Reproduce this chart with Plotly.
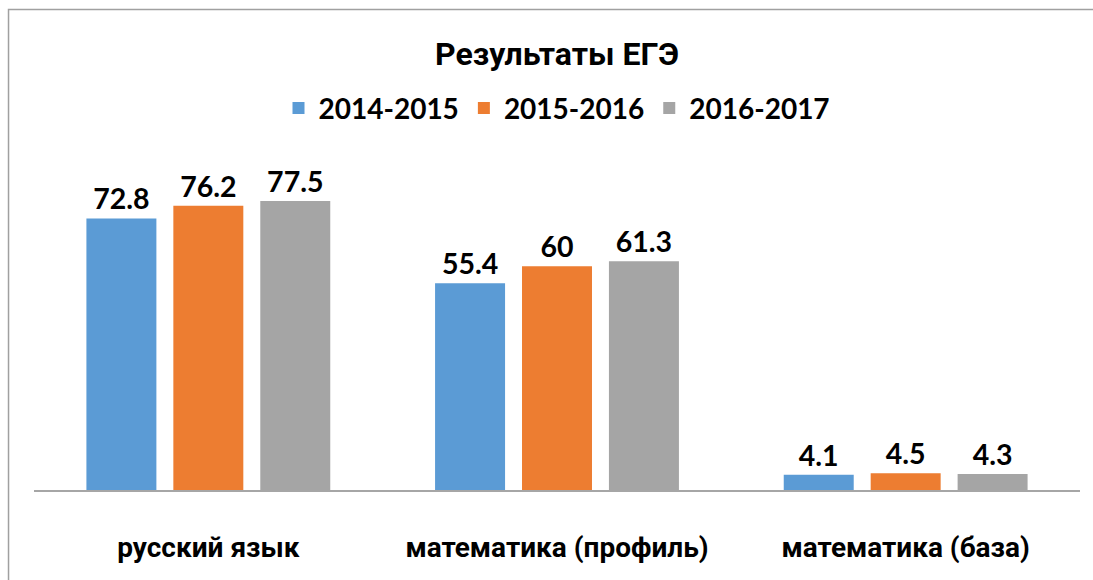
import plotly.graph_objects as go

categories = ["русский язык", "математика (профиль)", "математика (база)"]
series_names = ["2014-2015", "2015-2016", "2016-2017"]
values_2014_2015 = [72.8, 55.4, 4.1]
values_2015_2016 = [76.2, 60, 4.5]
values_2016_2017 = [77.5, 61.3, 4.3]
colors = ["#5B9BD5", "#ED7D31", "#A5A5A5"]

FONT = "Lato"
CYR = "Roboto"
fig = go.Figure()
for name, vals, col in zip(series_names, [values_2014_2015, values_2015_2016, values_2016_2017], colors):
    fig.add_trace(go.Bar(
        x=categories, y=vals, name=name, marker=dict(color=col, line=dict(width=0)),
        text=[f"{v:g}" for v in vals], textposition="outside", cliponaxis=False,
        textfont=dict(family=FONT, size=28.5, color="#000000", weight="bold"),
    ))

W, H = 1093, 580
ml, mr, mt, mb = 33.5, 12.5, 116.6, 90
pw, ph = W - ml - mr, H - mt - mb

fig.update_layout(
    width=W, height=H,
    margin=dict(l=ml, r=mr, t=mt, b=mb, pad=0),
    paper_bgcolor="white", plot_bgcolor="white",
    barmode="group", bargap=0.252, bargroupgap=0.195,
    title=dict(text="Результаты ЕГЭ", x=0.5, xref="paper", xanchor="center",
               y=1 - 54 / H, yref="container", yanchor="middle",
               font=dict(family=CYR, size=32, color="#000000", weight="bold")),
    legend=dict(orientation="h", x=0.5, xanchor="center", y=(H - mb - 108) / ph, yanchor="middle",
                font=dict(family=FONT, size=28, color="#000000", weight="bold"),
                itemwidth=30, traceorder="normal"),
    xaxis=dict(showline=True, linecolor="#A6A6A6", linewidth=1.5, ticks="", showgrid=False,
               tickfont=dict(family=CYR, size=28, color="#000000", weight="bold"),
               ticklabelstandoff=32),
    yaxis=dict(range=[0, 100], visible=False, showgrid=False),
    shapes=[dict(type="rect", xref="paper", yref="paper",
                 x0=(8 - ml) / pw, x1=1.2, y0=-0.5, y1=(H - mb - 9) / ph,
                 line=dict(color="#A0A0A0", width=1.5), fillcolor="rgba(0,0,0,0)", layer="below")],
)

fig.write_html("out.html")
